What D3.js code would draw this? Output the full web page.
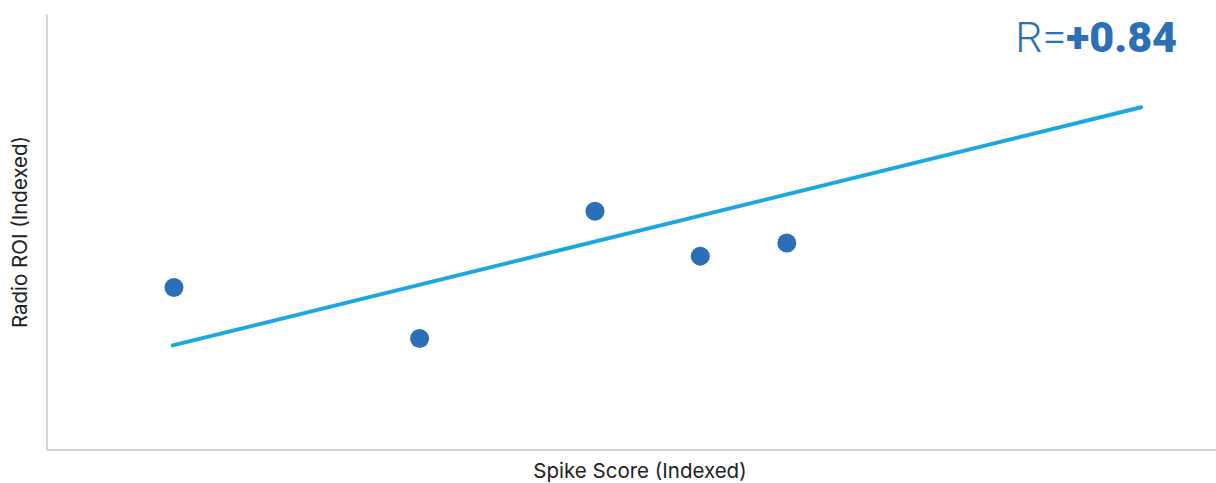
<!DOCTYPE html>
<html>
<head>
<meta charset="utf-8">
<script src="https://cdn.jsdelivr.net/npm/d3@7"></script>
<style>
  body { margin: 0; background: #fff; }
  svg { display: block; font-family: Inter, Roboto, "Noto Sans", sans-serif; }
</style>
</head>
<body>
<svg width="1216" height="483"></svg>
<script>
// indexed values
var spikeScore = [10.9, 31.9, 46.9, 55.9, 63.3];
var radioRoi = [37.2, 25.5, 54.7, 44.4, 47.4];
var trendX = [10.8, 93.6];
var trendY = [23.9, 78.6];
var rLabel = "R=";
var rValue = "+0.84";

var svg = d3.select("svg");
var width = +svg.attr("width");
var height = +svg.attr("height");

var x = d3.scaleLinear().domain([0, 100]).range([46.5, 1216]);
var y = d3.scaleLinear().domain([0, 100]).range([449.5, 14]);

// axes: plain light grey lines, no ticks
svg.append("g")
    .attr("transform", "translate(0," + y(0) + ")")
    .call(d3.axisBottom(x).ticks(0).tickSizeOuter(0))
    .select(".domain").attr("stroke", "#d3d3d3").attr("stroke-width", 2);

svg.append("g")
    .attr("transform", "translate(" + x(0) + ",0)")
    .call(d3.axisLeft(y).ticks(0).tickSizeOuter(0))
    .select(".domain").attr("stroke", "#d3d3d3").attr("stroke-width", 2);

// trend line
svg.append("path")
    .datum(d3.zip(trendX, trendY))
    .attr("fill", "none")
    .attr("stroke", "#1ba8e0")
    .attr("stroke-width", 4)
    .attr("stroke-linecap", "round")
    .attr("d", d3.line()
        .x(function (d) { return x(d[0]); })
        .y(function (d) { return y(d[1]); }));

// points
svg.append("g")
    .selectAll("circle")
    .data(d3.zip(spikeScore, radioRoi))
    .enter().append("circle")
    .attr("cx", function (d) { return x(d[0]); })
    .attr("cy", function (d) { return y(d[1]); })
    .attr("r", 9.5)
    .attr("fill", "#2b6fb9");

// axis titles
svg.append("text")
    .attr("x", 640)
    .attr("y", 478)
    .attr("text-anchor", "middle")
    .style("font-size", "20.5px")
    .style("fill", "#222")
    .text("Spike Score (Indexed)");

svg.append("text")
    .attr("transform", "translate(27,232) rotate(-90)")
    .attr("text-anchor", "middle")
    .style("font-size", "20.5px")
    .style("fill", "#222")
    .text("Radio ROI (Indexed)");

// correlation label
var r = svg.append("text")
    .attr("x", 1177)
    .attr("y", 52)
    .attr("text-anchor", "end")
    .style("font-family", "Roboto, sans-serif")
    .style("font-size", "43px")
    .style("fill", "#2b6fb9");
r.append("tspan").style("font-weight", 300).text(rLabel);
r.append("tspan").style("font-weight", 900).text(rValue);
</script>
</body>
</html>
